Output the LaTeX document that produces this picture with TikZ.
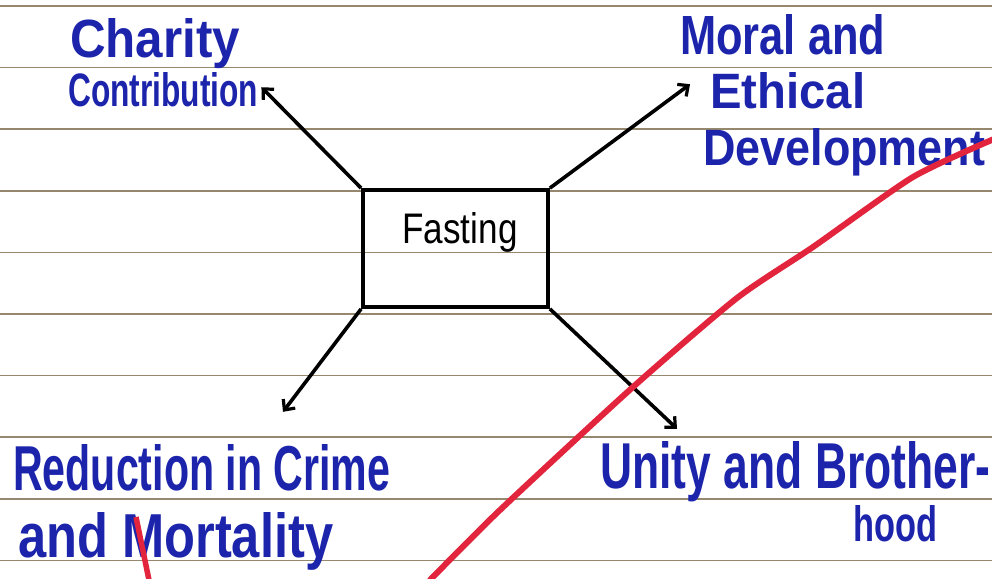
\documentclass[tikz,border=0pt]{standalone}
\usepackage{fontspec}
\setsansfont{Liberation Sans}
\usetikzlibrary{arrows.meta}

\definecolor{inkblue}{RGB}{28,36,172}
\definecolor{ruling}{RGB}{150,136,108}
\definecolor{redpen}{RGB}{226,36,60}

% one handwritten line, squeezed to a given width and height
\newcommand{\inkline}[3]{\resizebox{#1}{#2}{\sffamily\bfseries #3}}

\tikzset{
  note/.style={text=inkblue, inner sep=0pt, anchor=base west},
  box/.style={draw, line width=3.8pt, minimum width=185pt, minimum height=117pt},
  link/.style={line width=3.6pt, -{Straight Barb[length=8pt,width=15pt,line width=3.2pt]}}
}

\begin{document}
\begin{tikzpicture}[x=1pt, y=-1pt]
\useasboundingbox (0,0) rectangle (992,578);
\fill[white] (0,0) rectangle (992,578);

% Ruled paper
\foreach \k in {0,...,9} {
    \draw[ruling, line width=1.6pt] (0,6+61.6*\k) -- (992,6+61.6*\k);
}

% Central box
\node[box] (fast) at (455.5,248.5) {};
\node[anchor=base, inner sep=0pt] (fastlbl) at ([xshift=4.5pt,yshift=5pt]fast.center)
    {\resizebox{115pt}{31pt}{\sffamily Fasting}};

% Outcomes
\node[note] (charityA) at (70,58) {\inkline{170pt}{39pt}{Charity}};
\node[note] (charityB) at (68,106) {\inkline{190pt}{34pt}{Contribution}};
\node[note] (moralA) at (680,55) {\inkline{205pt}{40pt}{Moral and}};
\node[note] (moralB) at (710,108) {\inkline{155pt}{36pt}{Ethical}};
\node[note] (moralC) at (703,165) {\inkline{282pt}{37pt}{Development}};
\node[note] (crimeA) at (13,490) {\inkline{377pt}{46pt}{Reduction in Crime}};
\node[note] (crimeB) at (18,557) {\inkline{315pt}{45pt}{and Mortality}};
\node[note] (unityA) at (600,488) {\inkline{390pt}{47pt}{Unity and Brother-}};
\node[note] (unityB) at (853,541) {\inkline{84pt}{36pt}{hood}};

% Arrows out of the box
\draw[link] (fast.north west) -- ([xshift=3pt,yshift=2pt]charityB.east);
\draw[link] (fast.north east) -- ([xshift=-20pt,yshift=6pt]moralB.west);
\draw[link] (fast.south west) -- ([xshift=270pt,yshift=32pt]crimeA.north west);
\draw[link] (fast.south east) -- ([xshift=77pt,yshift=12pt]unityA.north west);

% Red pen marks
\draw[redpen, line width=6pt, line cap=round] plot[smooth, tension=0.4] coordinates
    {(430,580) (500,510) (633,387) (737,298) (813,247) (913,177) (994,139)};
\draw[redpen, line width=5.5pt] (136,517) -- (149,580);
\end{tikzpicture}
\end{document}
